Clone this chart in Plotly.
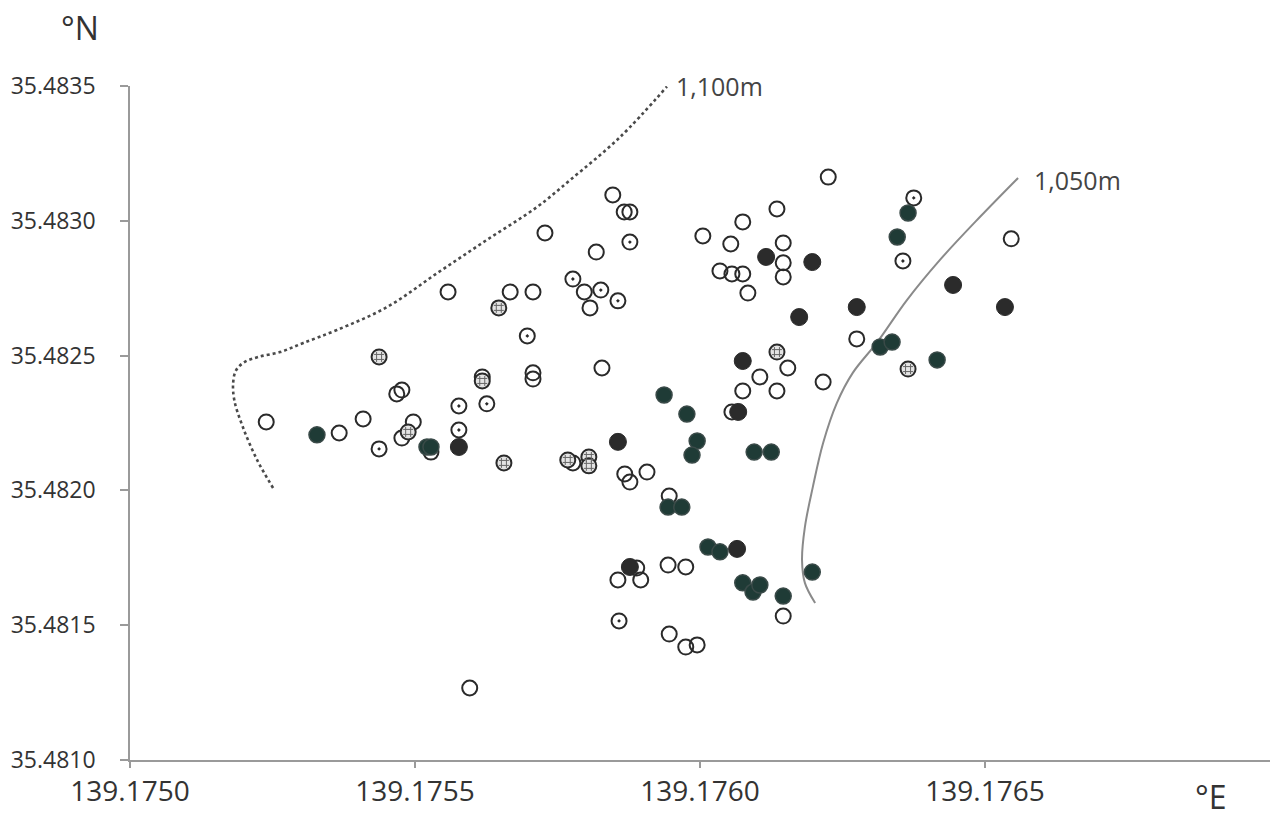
import plotly.graph_objects as go

# ---------------- data (longitude °E, latitude °N) ----------------
open_lon = [139.175239, 139.175367, 139.175409, 139.175468, 139.175477, 139.175497, 139.175477,
            139.175528, 139.175558, 139.175667, 139.175707, 139.175728, 139.175818, 139.175847,
            139.175867, 139.175877, 139.175797, 139.175807, 139.175828, 139.175618, 139.175707,
            139.175707, 139.175777, 139.175868, 139.175877, 139.175907, 139.175946, 139.175889,
            139.175856, 139.175896, 139.175944, 139.175975, 139.176146, 139.175946, 139.175975,
            139.175995, 139.175596, 139.176225, 139.176135, 139.176075, 139.176005, 139.176054,
            139.176146, 139.176146, 139.176146, 139.176035, 139.176056, 139.176075, 139.176084,
            139.176275, 139.176154, 139.176105, 139.176075, 139.176135, 139.176216, 139.176056,
            139.176546]
open_lat = [35.482254, 35.482213, 35.482265, 35.482358, 35.482372, 35.482254, 35.482194,
            35.482142, 35.482736, 35.482736, 35.482736, 35.482955, 35.482884, 35.483096,
            35.483033, 35.483033, 35.482736, 35.482677, 35.482454, 35.482421, 35.482436,
            35.482413, 35.482102, 35.482061, 35.482031, 35.482068, 35.481979, 35.481712,
            35.481668, 35.481668, 35.481723, 35.481716, 35.481534, 35.481467, 35.481419,
            35.481427, 35.481267, 35.483162, 35.483044, 35.482996, 35.482944, 35.482914,
            35.482918, 35.482844, 35.482792, 35.482814, 35.482803, 35.482803, 35.482732,
            35.482562, 35.482454, 35.482421, 35.482369, 35.482369, 35.482402, 35.482291,
            35.482933]

dot_lon = [139.175437, 139.175577, 139.175577, 139.175626, 139.175697, 139.175777,
           139.175826, 139.175856, 139.175877, 139.175858, 139.176375, 139.176356]
dot_lat = [35.482154, 35.482313, 35.482224, 35.482321, 35.482573, 35.482784,
           35.482743, 35.482703, 35.482921, 35.481516, 35.483085, 35.482851]

hatch_lon = [139.175437, 139.175488, 139.175647, 139.175618, 139.175656,
             139.175768, 139.175805, 139.175805, 139.176135, 139.176365]
hatch_lat = [35.482495, 35.482217, 35.482677, 35.482406, 35.482102,
             35.482113, 35.482124, 35.482091, 35.482513, 35.482450]

black_lon = [139.175577, 139.175856, 139.175877, 139.176065, 139.176067, 139.176075,
             139.176116, 139.176197, 139.176174, 139.176275, 139.176444, 139.176535]
black_lat = [35.482161, 35.482180, 35.481716, 35.481783, 35.482291, 35.482480,
             35.482866, 35.482847, 35.482643, 35.482680, 35.482762, 35.482680]

green_lon = [139.175328, 139.175521, 139.175528, 139.175937, 139.175977, 139.175995,
             139.175986, 139.176095, 139.176125, 139.175944, 139.175968, 139.176014,
             139.176035, 139.176075, 139.176093, 139.176105, 139.176146, 139.176197,
             139.176365, 139.176346, 139.176316, 139.176337, 139.176416]
green_lat = [35.482206, 35.482161, 35.482161, 35.482354, 35.482283, 35.482183,
             35.482131, 35.482142, 35.482142, 35.481938, 35.481938, 35.481790,
             35.481772, 35.481657, 35.481623, 35.481649, 35.481608, 35.481697,
             35.483029, 35.482940, 35.482532, 35.482550, 35.482484]

# contour lines
c1100_lon = [139.175251, 139.175223, 139.175198, 139.175183, 139.175181, 139.175186,
             139.175200, 139.175225, 139.175263, 139.175304, 139.175363, 139.175451,
             139.175539, 139.175626, 139.175714, 139.175772, 139.175860, 139.175942]
c1100_lat = [35.482009, 35.482113, 35.482235, 35.482335, 35.482400, 35.482445,
             35.482475, 35.482495, 35.482513, 35.482547, 35.482595, 35.482680,
             35.482806, 35.482929, 35.483051, 35.483151, 35.483311, 35.483498]
c1050_lon = [139.176202, 139.176184, 139.176179, 139.176184, 139.176198, 139.176216,
             139.176240, 139.176268, 139.176311, 139.176363, 139.176421, 139.176491,
             139.176558]
c1050_lat = [35.481582, 35.481657, 35.481742, 35.481864, 35.482013, 35.482176,
             35.482324, 35.482436, 35.482550, 35.482706, 35.482855, 35.483014,
             35.483159]
contour_labels = ["1,100m", "1,050m"]

x_ticks = [139.1750, 139.1755, 139.1760, 139.1765]
y_ticks = [35.4810, 35.4815, 35.4820, 35.4825, 35.4830, 35.4835]

# ---------------- figure ----------------
FONT = "Open Sans"
EDGE = "#2a2a2a"
MS = 15

fig = go.Figure()

fig.add_trace(go.Scatter(x=c1100_lon, y=c1100_lat, mode="lines", line_shape="spline",
                         line=dict(color="#4a4a4a", width=2.6, dash="dot"), hoverinfo="skip",
                         cliponaxis=False))
fig.add_trace(go.Scatter(x=c1050_lon, y=c1050_lat, mode="lines", line_shape="spline",
                         line=dict(color="#8a8a8a", width=2), hoverinfo="skip"))

fig.add_trace(go.Scatter(x=open_lon, y=open_lat, mode="markers",
                         marker=dict(symbol="circle-open", size=MS, color=EDGE,
                                     line=dict(width=2, color=EDGE))))
fig.add_trace(go.Scatter(x=dot_lon, y=dot_lat, mode="markers",
                         marker=dict(symbol="circle-open-dot", size=MS, color=EDGE,
                                     line=dict(width=2, color=EDGE))))
fig.add_trace(go.Scatter(x=hatch_lon, y=hatch_lat, mode="markers",
                         marker=dict(symbol="circle", size=MS, color="#e4e4e4",
                                     line=dict(width=2, color=EDGE))))
fig.add_trace(go.Scatter(x=hatch_lon, y=hatch_lat, mode="markers",
                         marker=dict(symbol="hash-open", size=10, color="#666666",
                                     line=dict(width=1, color="#666666"))))
fig.add_trace(go.Scatter(x=black_lon, y=black_lat, mode="markers",
                         marker=dict(symbol="circle", size=MS + 2, color="#2b2b2b",
                                     line=dict(width=1, color="#2b2b2b"))))
fig.add_trace(go.Scatter(x=green_lon, y=green_lat, mode="markers",
                         marker=dict(symbol="circle", size=MS + 1, color="#1f3b36",
                                     line=dict(width=1.5, color="#3a4a48"))))

# contour labels
fig.add_annotation(x=139.175955, y=35.48348, text=contour_labels[0], showarrow=False,
                   xanchor="left", yanchor="middle", xshift=0, yshift=5,
                   font=dict(family=FONT, size=25, color="#444444"))
fig.add_annotation(x=c1050_lon[-1], y=c1050_lat[-1], text=contour_labels[1], showarrow=False,
                   xanchor="left", yanchor="middle", xshift=14, yshift=-2,
                   font=dict(family=FONT, size=25, color="#444444"))

# axis unit labels
fig.add_annotation(xref="paper", yref="paper", x=-0.044, y=1.087, text="°N", showarrow=False,
                   xanchor="center", yanchor="middle",
                   font=dict(family=FONT, size=32, color="#333333"))
fig.add_annotation(xref="paper", yref="paper", x=0.948, y=-0.054, text="°E", showarrow=False,
                   xanchor="center", yanchor="middle",
                   font=dict(family=FONT, size=32, color="#333333"))

fig.update_layout(
    width=1272, height=819,
    margin=dict(l=130, r=2, t=86, b=59),
    paper_bgcolor="white", plot_bgcolor="white",
    showlegend=False,
    font=dict(family=FONT, color="#333333"),
)
fig.update_xaxes(range=[139.1750, 139.1770], tickvals=x_ticks,
                 ticktext=[f"{v:.4f}" for v in x_ticks],
                 showgrid=False, zeroline=False, showline=True, linecolor="#9a9a9a", linewidth=1.5,
                 ticks="outside", ticklen=6, tickcolor="#9a9a9a", tickwidth=1.5,
                 tickfont=dict(family=FONT, size=28, color="#333333"))
fig.update_yaxes(range=[35.4810, 35.4835], tickvals=y_ticks,
                 ticktext=[f"{v:.4f}" for v in y_ticks],
                 showgrid=False, zeroline=False, showline=True, linecolor="#9a9a9a", linewidth=1.5,
                 ticks="outside", ticklen=8, tickcolor="#9a9a9a", tickwidth=1.5,
                 ticklabelstandoff=20,
                 tickfont=dict(family=FONT, size=23, color="#333333"))

fig.write_html("out.html")
